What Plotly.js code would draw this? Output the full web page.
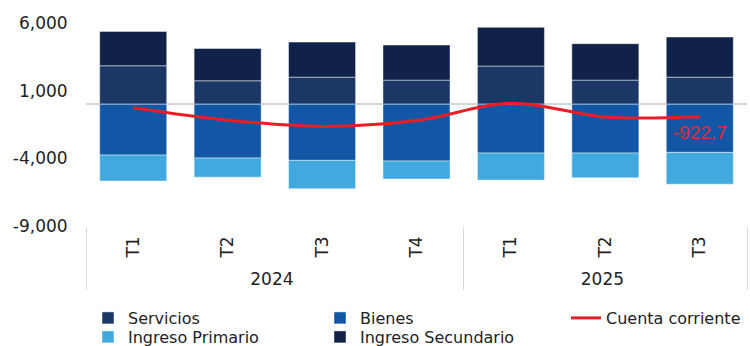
<!DOCTYPE html>
<html>
<head>
<meta charset="utf-8">
<script src="https://cdn.plot.ly/plotly-3.0.1.min.js"></script>
<style>html,body{margin:0;padding:0;background:#fff;}#chart{width:750px;height:346px;}</style>
</head>
<body>
<div id="chart"></div>
<script>
const years = ['2024','2024','2024','2024','2025','2025','2025'];
const quarters = ['T1','T2','T3','T4','T1','T2','T3'];
const servicios = [2840, 1730, 2000, 1780, 2820, 1780, 2000];
const ingresoSecundario = [2540, 2390, 2590, 2590, 2860, 2690, 2960];
const bienes = [-3760, -3980, -4150, -4200, -3610, -3610, -3560];
const ingresoPrimario = [-1920, -1410, -2100, -1330, -2000, -1830, -2350];
const cuentaCorriente = [-260, -1180, -1640, -1210, 70, -950, -922.7];
const yTickVals = [-9000, -4000, 1000, 6000];
const yTickText = ['-9,000', '-4,000', '1,000', '6,000'];

const x = [years, quarters];
const font = 'DejaVu Sans';
const lineStyle = {color: 'rgba(255,255,255,0.45)', width: 1};

const traces = [
  {type: 'bar', name: 'Servicios', x: x, y: servicios, marker: {color: '#1a3765', line: lineStyle}, legend: 'legend'},
  {type: 'bar', name: 'Bienes', x: x, y: bienes, marker: {color: '#1257a5', line: lineStyle}, legend: 'legend'},
  {type: 'bar', name: 'Ingreso Primario', x: x, y: ingresoPrimario, marker: {color: '#41a9de', line: lineStyle}, legend: 'legend2'},
  {type: 'bar', name: 'Ingreso Secundario', x: x, y: ingresoSecundario, marker: {color: '#10224a', line: lineStyle}, legend: 'legend2'},
  {type: 'scatter', mode: 'lines', name: 'Cuenta corriente', x: x, y: cuentaCorriente,
   line: {color: '#ec1c24', width: 3, shape: 'spline', smoothing: 1}, legend: 'legend3'},
  {type: 'scatter', mode: 'markers+text', showlegend: false, hoverinfo: 'skip',
   x: [[years[years.length-1]], [quarters[quarters.length-1]]],
   y: [cuentaCorriente[cuentaCorriente.length-1]],
   text: [String(cuentaCorriente[cuentaCorriente.length-1])],
   marker: {size: 12, opacity: 0},
   textposition: 'bottom center',
   textfont: {family: 'Liberation Sans', size: 19, color: '#e8262d'}}
];

const legendBase = {orientation: 'h', xref: 'container', yref: 'container', xanchor: 'left', yanchor: 'top',
  font: {family: font, size: 16, color: '#222'}, bgcolor: 'rgba(0,0,0,0)', entrywidth: 187, entrywidthmode: 'pixels',
  itemclick: false, traceorder: 'normal'};

const layout = {
  width: 750, height: 346,
  margin: {l: 86, r: 3, t: 23, b: 120},
  paper_bgcolor: '#fff', plot_bgcolor: '#fff',
  barmode: 'relative', bargap: 0.29,
  font: {family: font, size: 17, color: '#222'},
  xaxis: {type: 'multicategory', tickangle: -90, showgrid: false, showline: false,
    ticks: '', ticklabelstandoff: 6,
    showdividers: true, dividercolor: '#d9d9d9', dividerwidth: 1,
    tickfont: {family: font, size: 17, color: '#222'}},
  yaxis: {range: [-9000, 6000], tickvals: yTickVals, ticktext: yTickText, showgrid: false,
    zeroline: true, zerolinecolor: '#d4d4d4', zerolinewidth: 1.5, showline: false,
    ticks: 'outside', ticklen: 14, tickcolor: 'rgba(0,0,0,0)',
    tickfont: {family: font, size: 17, color: '#222'}},
  legend: Object.assign({}, legendBase, {x: 88/750, y: 1 - 301/346}),
  legend2: Object.assign({}, legendBase, {x: 88/750, y: 1 - 320/346}),
  legend3: Object.assign({}, legendBase, {x: 566/750, y: 1 - 301/346, entrywidth: 150}),
  showlegend: true
};

Plotly.newPlot('chart', traces, layout, {staticPlot: true, displayModeBar: false});
</script>
</body>
</html>
